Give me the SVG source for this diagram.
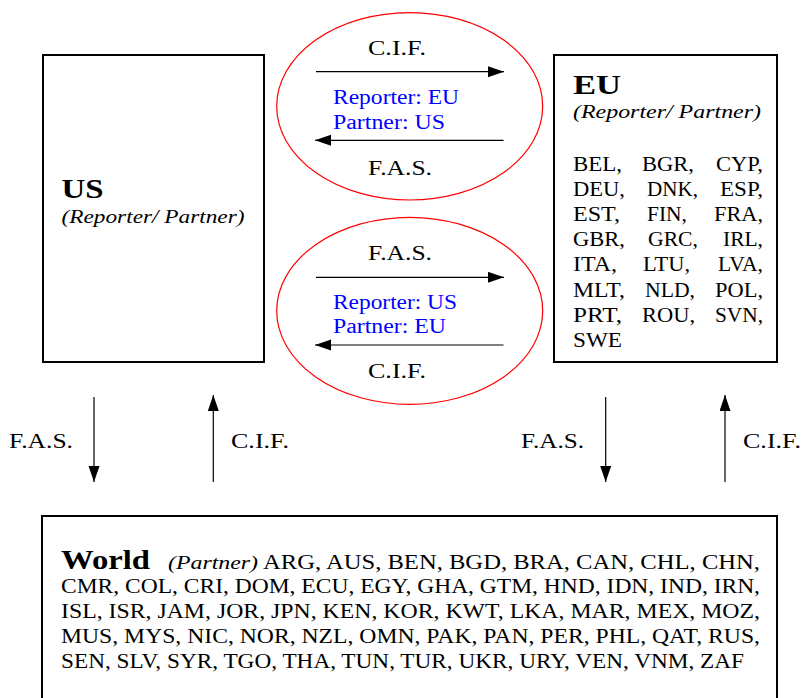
<svg xmlns="http://www.w3.org/2000/svg" width="803" height="698" viewBox="0 0 803 698">
<defs>
<marker id="ah" markerUnits="userSpaceOnUse" markerWidth="16" markerHeight="12" refX="16" refY="5.5" orient="auto">
<path d="M0,0 L16,5.5 L0,11 z" fill="#000"/>
</marker>
<style>
text{font-family:"Liberation Serif","Times New Roman",serif;fill:#000;}
.t{font-size:20px;}
.b{font-size:28px;font-weight:bold;}
.i{font-size:19px;font-style:italic;}
.blue{font-size:20px;fill:#0000ff;}
.box{fill:#fff;stroke:#000;stroke-width:2;}
.ell{fill:none;stroke:#ff0000;stroke-width:1.2;}
.ar{stroke:#000;stroke-width:1.2;fill:none;marker-end:url(#ah);}
</style>
</defs>
<rect width="803" height="698" fill="#fff"/>

<g id="US">
<rect class="box" x="43" y="55" width="221" height="307"/>
<text class="b" x="61.5" y="197.5" textLength="42" lengthAdjust="spacingAndGlyphs">US</text>
<text class="i" x="61.5" y="223" textLength="183" lengthAdjust="spacingAndGlyphs">(Reporter/ Partner)</text>
</g>

<g id="EU">
<rect class="box" x="554" y="55" width="223" height="307"/>
<text class="b" x="573" y="94" textLength="48" lengthAdjust="spacingAndGlyphs">EU</text>
<text class="i" x="573" y="118" textLength="188" lengthAdjust="spacingAndGlyphs">(Reporter/ Partner)</text>
<g>
<text class="t" x="573" y="170.7" textLength="49" lengthAdjust="spacingAndGlyphs">BEL,</text>
<text class="t" x="642" y="170.7" textLength="52" lengthAdjust="spacingAndGlyphs">BGR,</text>
<text class="t" x="716" y="170.7" textLength="47" lengthAdjust="spacingAndGlyphs">CYP,</text>
<text class="t" x="573" y="196" textLength="52" lengthAdjust="spacingAndGlyphs">DEU,</text>
<text class="t" x="647" y="196" textLength="51" lengthAdjust="spacingAndGlyphs">DNK,</text>
<text class="t" x="720" y="196" textLength="43" lengthAdjust="spacingAndGlyphs">ESP,</text>
<text class="t" x="573" y="221" textLength="47" lengthAdjust="spacingAndGlyphs">EST,</text>
<text class="t" x="647" y="221" textLength="40" lengthAdjust="spacingAndGlyphs">FIN,</text>
<text class="t" x="714" y="221" textLength="49" lengthAdjust="spacingAndGlyphs">FRA,</text>
<text class="t" x="573" y="246" textLength="52" lengthAdjust="spacingAndGlyphs">GBR,</text>
<text class="t" x="648" y="246" textLength="50" lengthAdjust="spacingAndGlyphs">GRC,</text>
<text class="t" x="723" y="246" textLength="40" lengthAdjust="spacingAndGlyphs">IRL,</text>
<text class="t" x="573" y="271.3" textLength="44" lengthAdjust="spacingAndGlyphs">ITA,</text>
<text class="t" x="643" y="271.3" textLength="47" lengthAdjust="spacingAndGlyphs">LTU,</text>
<text class="t" x="718" y="271.3" textLength="45" lengthAdjust="spacingAndGlyphs">LVA,</text>
<text class="t" x="573" y="296.7" textLength="52" lengthAdjust="spacingAndGlyphs">MLT,</text>
<text class="t" x="645" y="296.7" textLength="50" lengthAdjust="spacingAndGlyphs">NLD,</text>
<text class="t" x="715" y="296.7" textLength="48" lengthAdjust="spacingAndGlyphs">POL,</text>
<text class="t" x="573" y="321.7" textLength="49" lengthAdjust="spacingAndGlyphs">PRT,</text>
<text class="t" x="642" y="321.7" textLength="53" lengthAdjust="spacingAndGlyphs">ROU,</text>
<text class="t" x="715" y="321.7" textLength="48" lengthAdjust="spacingAndGlyphs">SVN,</text>
<text class="t" x="573" y="346.7" textLength="49" lengthAdjust="spacingAndGlyphs">SWE</text>
</g>
</g>

<g id="World">
<rect class="box" x="42" y="516" width="735" height="200"/>
<text class="b" x="61" y="569" textLength="89" lengthAdjust="spacingAndGlyphs">World</text>
<text class="i" x="168" y="569" textLength="90" lengthAdjust="spacingAndGlyphs">(Partner)</text>
<text class="t" x="263" y="569" textLength="497" lengthAdjust="spacingAndGlyphs">ARG, AUS, BEN, BGD, BRA, CAN, CHL, CHN,</text>
<text class="t" x="61" y="593" textLength="699" lengthAdjust="spacingAndGlyphs">CMR, COL, CRI, DOM, ECU, EGY, GHA, GTM, HND, IDN, IND, IRN,</text>
<text class="t" x="61" y="618" textLength="699" lengthAdjust="spacingAndGlyphs">ISL, ISR, JAM, JOR, JPN, KEN, KOR, KWT, LKA, MAR, MEX, MOZ,</text>
<text class="t" x="61" y="643" textLength="699" lengthAdjust="spacingAndGlyphs">MUS, MYS, NIC, NOR, NZL, OMN, PAK, PAN, PER, PHL, QAT, RUS,</text>
<text class="t" x="61" y="668" textLength="683" lengthAdjust="spacingAndGlyphs">SEN, SLV, SYR, TGO, THA, TUN, TUR, UKR, URY, VEN, VNM, ZAF</text>
</g>

<g id="flowEUtoUS">
<ellipse class="ell" cx="409.7" cy="106.3" rx="133" ry="93.7"/>
<text class="blue" x="333" y="104" textLength="126" lengthAdjust="spacingAndGlyphs">Reporter: EU</text>
<text class="blue" x="333" y="129.3" textLength="112" lengthAdjust="spacingAndGlyphs">Partner: US</text>
</g>

<g id="flowUStoEU">
<ellipse class="ell" cx="409.7" cy="310.8" rx="133" ry="93.5"/>
<text class="blue" x="333" y="309.3" textLength="124" lengthAdjust="spacingAndGlyphs">Reporter: US</text>
<text class="blue" x="333" y="333.3" textLength="113" lengthAdjust="spacingAndGlyphs">Partner: EU</text>
</g>

<g id="connectors">
<line class="ar" x1="316" y1="71.7" x2="504" y2="71.7"/>
<line class="ar" x1="503.5" y1="140.3" x2="315" y2="140.3"/>
<line class="ar" x1="316" y1="277.3" x2="504" y2="277.3"/>
<line class="ar" x1="503.5" y1="345" x2="315" y2="345"/>
<line class="ar" x1="94" y1="397" x2="94" y2="482"/>
<line class="ar" x1="213.3" y1="482" x2="213.3" y2="395"/>
<line class="ar" x1="605.7" y1="397" x2="605.7" y2="482"/>
<line class="ar" x1="725" y1="482" x2="725" y2="395"/>
<text class="t" x="368" y="55" textLength="58" lengthAdjust="spacingAndGlyphs">C.I.F.</text>
<text class="t" x="368" y="175" textLength="64" lengthAdjust="spacingAndGlyphs">F.A.S.</text>
<text class="t" x="368" y="260" textLength="64" lengthAdjust="spacingAndGlyphs">F.A.S.</text>
<text class="t" x="368" y="378.3" textLength="58" lengthAdjust="spacingAndGlyphs">C.I.F.</text>
<text class="t" x="9" y="448.3" textLength="64" lengthAdjust="spacingAndGlyphs">F.A.S.</text>
<text class="t" x="231" y="448.3" textLength="58" lengthAdjust="spacingAndGlyphs">C.I.F.</text>
<text class="t" x="521" y="448.3" textLength="63" lengthAdjust="spacingAndGlyphs">F.A.S.</text>
<text class="t" x="743" y="448.3" textLength="58" lengthAdjust="spacingAndGlyphs">C.I.F.</text>
</g>
</svg>
